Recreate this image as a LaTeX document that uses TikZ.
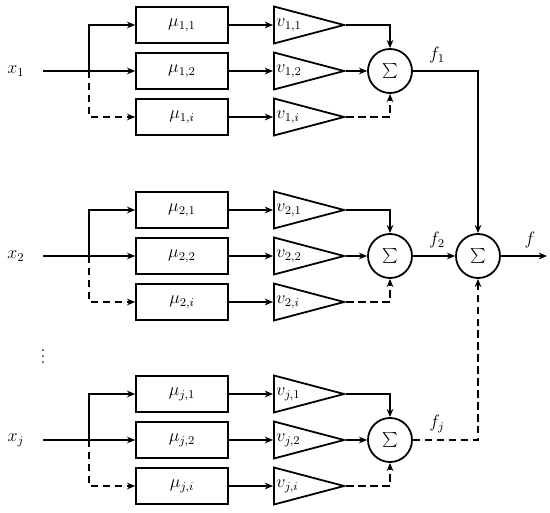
\documentclass[tikz,border=0pt]{standalone}
\usetikzlibrary{shapes.geometric,arrows.meta}
\tikzset{
  box/.style={draw, line width=1.2pt, minimum width=61.6pt, minimum height=24pt, inner sep=0pt},
  amp/.style={draw, line width=1.2pt, isosceles triangle, isosceles triangle stretches,
              shape border rotate=0, minimum width=24.8pt, minimum height=47pt,
              inner sep=0pt, anchor=west},
  gain/.style={anchor=west, inner sep=2pt},
  adder/.style={draw, circle, line width=1.2pt, minimum size=29.5pt, inner sep=0pt},
  sig/.style={line width=1.2pt, -{Stealth[length=5.5pt,width=4.5pt]}},
  opt/.style={sig, dash pattern=on 5pt off 3pt}
}
\begin{document}
\begin{tikzpicture}[x=0.67pt, y=-0.67pt, every node/.style={font=\large}]
  \useasboundingbox (0,0) rectangle (550,513);

  % first input
  \node (x1) at (16,71) {$x_1$};
  \coordinate (in1) at (43,71);
  \coordinate (b1)  at (89,71);
  \node[box] (m11) at (182,25)  {$\mu_{1,1}$};
  \node[box] (m12) at (182,71)  {$\mu_{1,2}$};
  \node[box] (m1i) at (182,117) {$\mu_{1,i}$};
  \node[amp] (t11) at (273,25)  {};
  \node[amp] (t12) at (273,71)  {};
  \node[amp] (t1i) at (273,117) {};
  \node[gain] (v11) at (t11.west) {$v_{1,1}$};
  \node[gain] (v12) at (t12.west) {$v_{1,2}$};
  \node[gain] (v1i) at (t1i.west) {$v_{1,i}$};
  \node[adder] (s1) at (390,71) {$\sum$};
  \node (f1) at (437,55) {$f_1$};

  % second input
  \node (x2) at (16,256) {$x_2$};
  \coordinate (in2) at (43,256);
  \coordinate (b2)  at (89,256);
  \node[box] (m21) at (182,210) {$\mu_{2,1}$};
  \node[box] (m22) at (182,256) {$\mu_{2,2}$};
  \node[box] (m2i) at (182,302) {$\mu_{2,i}$};
  \node[amp] (t21) at (273,210) {};
  \node[amp] (t22) at (273,256) {};
  \node[amp] (t2i) at (273,302) {};
  \node[gain] (v21) at (t21.west) {$v_{2,1}$};
  \node[gain] (v22) at (t22.west) {$v_{2,2}$};
  \node[gain] (v2i) at (t2i.west) {$v_{2,i}$};
  \node[adder] (s2) at (390,256) {$\sum$};
  \node (f2) at (437,240) {$f_2$};

  \node (dots) at (43,352) {$\vdots$};

  % last input
  \node (xj) at (16,440) {$x_j$};
  \coordinate (inj) at (43,440);
  \coordinate (bj)  at (89,440);
  \node[box] (mj1) at (182,394) {$\mu_{j,1}$};
  \node[box] (mj2) at (182,440) {$\mu_{j,2}$};
  \node[box] (mji) at (182,486) {$\mu_{j,i}$};
  \node[amp] (tj1) at (273,394) {};
  \node[amp] (tj2) at (273,440) {};
  \node[amp] (tji) at (273,486) {};
  \node[gain] (vj1) at (tj1.west) {$v_{j,1}$};
  \node[gain] (vj2) at (tj2.west) {$v_{j,2}$};
  \node[gain] (vji) at (tji.west) {$v_{j,i}$};
  \node[adder] (sj) at (390,440) {$\sum$};
  \node (fj) at (437,424) {$f_j$};

  % output
  \node[adder] (s) at (478,256) {$\sum$};
  \coordinate (out) at (547,256);
  \node (f) at (530,240) {$f$};

  % first branch
  \draw[sig] (in1) -- (m12.west);
  \draw[sig] (b1) |- (m11.west);
  \draw[opt] (b1) |- (m1i.west);
  \draw[sig] (m11.east) -- (t11.west);
  \draw[sig] (m12.east) -- (t12.west);
  \draw[sig] (m1i.east) -- (t1i.west);
  \draw[sig] (t11.east) -| (s1.north);
  \draw[sig] (t12.east) -- (s1.west);
  \draw[opt] (t1i.east) -| (s1.south);

  % second branch
  \draw[sig] (in2) -- (m22.west);
  \draw[sig] (b2) |- (m21.west);
  \draw[opt] (b2) |- (m2i.west);
  \draw[sig] (m21.east) -- (t21.west);
  \draw[sig] (m22.east) -- (t22.west);
  \draw[sig] (m2i.east) -- (t2i.west);
  \draw[sig] (t21.east) -| (s2.north);
  \draw[sig] (t22.east) -- (s2.west);
  \draw[opt] (t2i.east) -| (s2.south);

  % last branch
  \draw[sig] (inj) -- (mj2.west);
  \draw[sig] (bj) |- (mj1.west);
  \draw[opt] (bj) |- (mji.west);
  \draw[sig] (mj1.east) -- (tj1.west);
  \draw[sig] (mj2.east) -- (tj2.west);
  \draw[sig] (mji.east) -- (tji.west);
  \draw[sig] (tj1.east) -| (sj.north);
  \draw[sig] (tj2.east) -- (sj.west);
  \draw[opt] (tji.east) -| (sj.south);

  % the sum
  \draw[sig] (s1.east) -| (s.north);
  \draw[sig] (s2.east) -- (s.west);
  \draw[opt] (sj.east) -| (s.south);
  \draw[sig] (s.east) -- (out);
\end{tikzpicture}
\end{document}
